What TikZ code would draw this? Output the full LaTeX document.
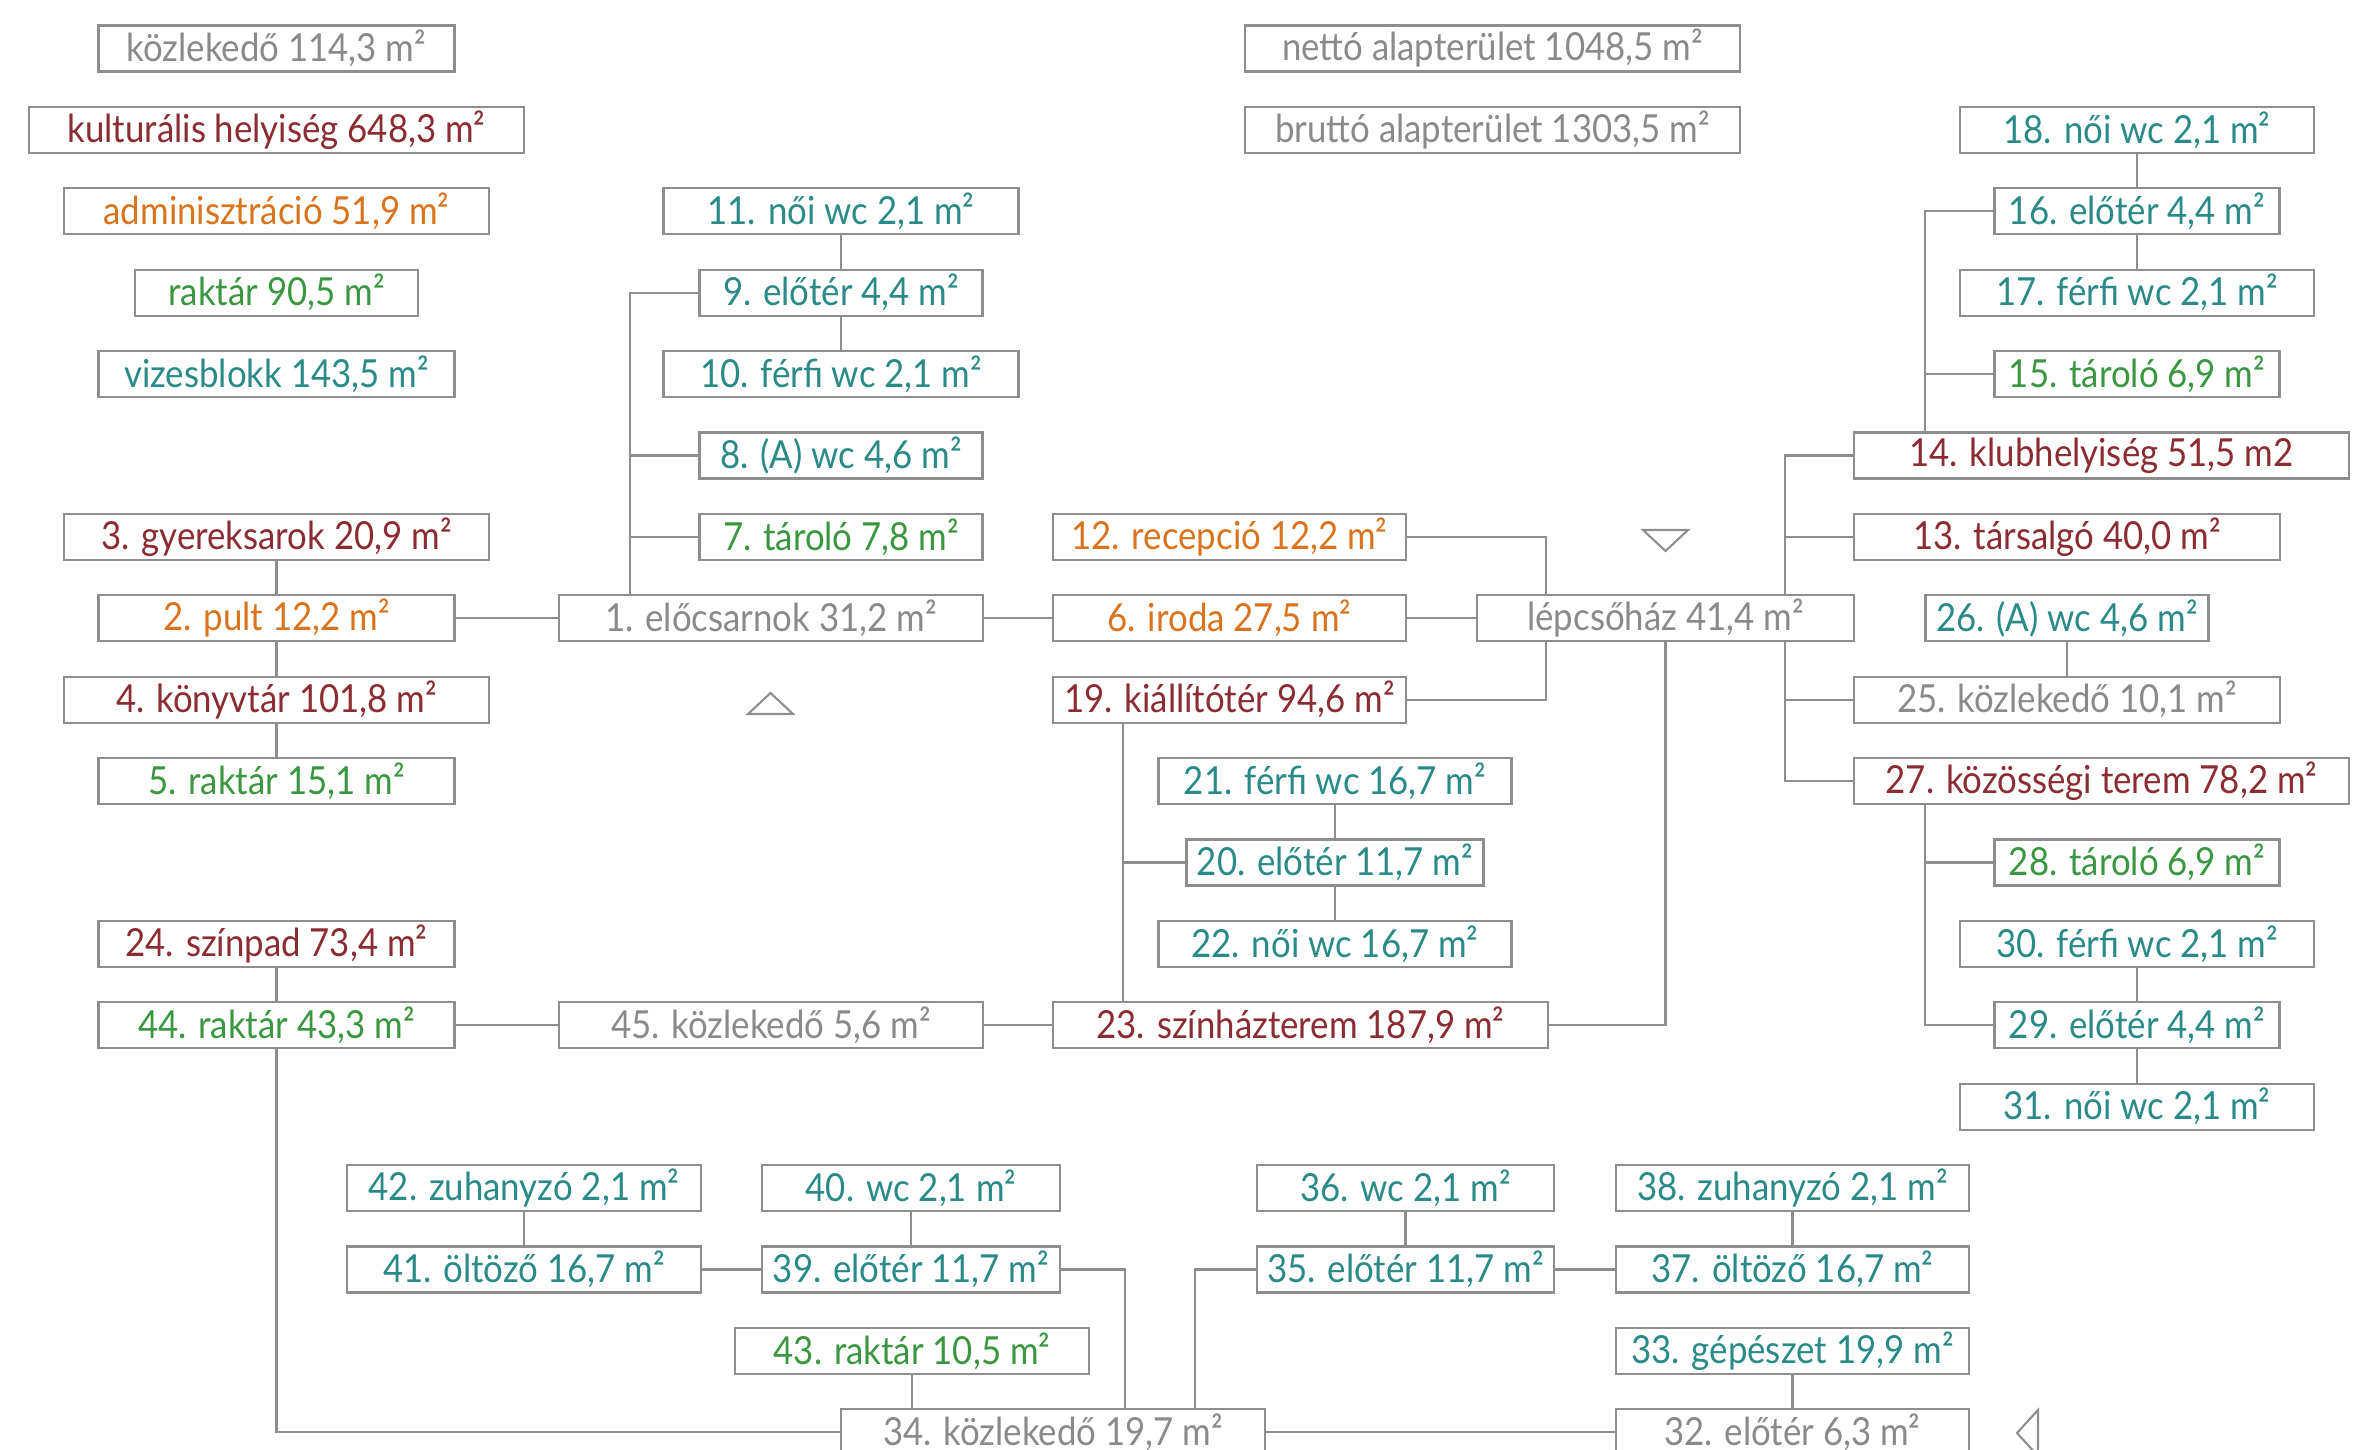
\documentclass[tikz,border=0pt]{standalone}
\usepackage{fontspec}
\setmainfont{Lato}[FakeStretch=0.9]
\definecolor{linegray}{HTML}{8E8E8E}
\definecolor{txtgray}{HTML}{8A8A8A}
\definecolor{roommaroon}{HTML}{8B2B33}
\definecolor{roomorange}{HTML}{D9741C}
\definecolor{roomgreen}{HTML}{3A9640}
\definecolor{roomteal}{HTML}{2A8A86}
\tikzset{
  room/.style={draw=linegray, line width=0.6pt, minimum height=0.46cm, inner sep=0pt, fill=white, font=\fontsize{11}{13}\selectfont},
  passage/.style={room, text=txtgray},
  culture/.style={room, text=roommaroon},
  admin/.style={room, text=roomorange},
  store/.style={room, text=roomgreen},
  wet/.style={room, text=roomteal},
  link/.style={draw=linegray, line width=0.6pt}
}
\begin{document}
\begin{tikzpicture}[x=1cm,y=1cm]
\useasboundingbox (0,0) rectangle (23.75,-14.50);

\node[passage, minimum width=3.56cm] (sumhall) at (2.765,-0.485) {közlekedő 114,3 m²};
\node[culture, minimum width=4.95cm] (sumcult) at (2.765,-1.299) {kulturális helyiség 648,3 m²};
\node[admin, minimum width=4.25cm] (sumadmin) at (2.765,-2.113) {adminisztráció 51,9 m²};
\node[store, minimum width=2.83cm] (sumstore) at (2.765,-2.927) {raktár 90,5 m²};
\node[wet, minimum width=3.56cm] (sumwet) at (2.765,-3.741) {vizesblokk 143,5 m²};
\node[passage, minimum width=4.95cm] (net) at (14.925,-0.485) {nettó alapterület 1048,5 m²};
\node[passage, minimum width=4.95cm] (gross) at (14.925,-1.299) {bruttó alapterület 1303,5 m²};

\node[wet, minimum width=3.55cm] (r11) at (8.41,-2.113) {11. női wc 2,1 m²};
\node[wet, minimum width=2.83cm] (r9) at (8.41,-2.927) {9. előtér 4,4 m²};
\node[wet, minimum width=3.55cm] (r10) at (8.41,-3.741) {10. férfi wc 2,1 m²};
\node[wet, minimum width=2.83cm] (r8) at (8.41,-4.555) {8. (A) wc 4,6 m²};
\node[store, minimum width=2.83cm] (r7) at (8.41,-5.369) {7. tároló 7,8 m²};

\node[wet, minimum width=3.54cm] (r18) at (21.37,-1.299) {18. női wc 2,1 m²};
\node[wet, minimum width=2.85cm] (r16) at (21.37,-2.113) {16. előtér 4,4 m²};
\node[wet, minimum width=3.54cm] (r17) at (21.37,-2.927) {17. férfi wc 2,1 m²};
\node[store, minimum width=2.85cm] (r15) at (21.37,-3.741) {15. tároló 6,9 m²};
\node[culture, minimum width=4.95cm] (r14) at (21.015,-4.555) {14. klubhelyiség 51,5 m2};
\node[culture, minimum width=4.26cm] (r13) at (20.67,-5.369) {13. társalgó 40,0 m²};
\node[wet, minimum width=2.83cm] (r26) at (20.67,-6.183) {26. (A) wc 4,6 m²};
\node[passage, minimum width=4.26cm] (r25) at (20.67,-6.997) {25. közlekedő 10,1 m²};
\node[culture, minimum width=4.95cm] (r27) at (21.015,-7.811) {27. közösségi terem 78,2 m²};
\node[store, minimum width=2.85cm] (r28) at (21.37,-8.625) {28. tároló 6,9 m²};
\node[wet, minimum width=3.54cm] (r30) at (21.37,-9.439) {30. férfi wc 2,1 m²};
\node[wet, minimum width=2.85cm] (r29) at (21.37,-10.253) {29. előtér 4,4 m²};
\node[wet, minimum width=3.54cm] (r31) at (21.37,-11.067) {31. női wc 2,1 m²};

\node[culture, minimum width=4.25cm] (r3) at (2.765,-5.369) {3. gyereksarok 20,9 m²};
\node[admin, minimum width=3.56cm] (r2) at (2.765,-6.183) {2. pult 12,2 m²};
\node[culture, minimum width=4.25cm] (r4) at (2.765,-6.997) {4. könyvtár 101,8 m²};
\node[store, minimum width=3.56cm] (r5) at (2.765,-7.811) {5. raktár 15,1 m²};
\node[passage, minimum width=4.24cm] (r1) at (7.71,-6.183) {1. előcsarnok 31,2 m²};
\node[admin, minimum width=3.53cm] (r12) at (12.295,-5.369) {12. recepció 12,2 m²};
\node[admin, minimum width=3.53cm] (r6) at (12.295,-6.183) {6. iroda 27,5 m²};
\node[culture, minimum width=3.53cm] (r19) at (12.295,-6.997) {19. kiállítótér 94,6 m²};
\node[passage, minimum width=3.77cm] (stair) at (16.655,-6.183) {lépcsőház 41,4 m²};

\node[wet, minimum width=3.53cm] (r21) at (13.35,-7.811) {21. férfi wc 16,7 m²};
\node[wet, minimum width=2.97cm] (r20) at (13.35,-8.625) {20. előtér 11,7 m²};
\node[wet, minimum width=3.53cm] (r22) at (13.35,-9.439) {22. női wc 16,7 m²};
\node[culture, minimum width=3.56cm] (r24) at (2.765,-9.439) {24. színpad 73,4 m²};
\node[store, minimum width=3.56cm] (r44) at (2.765,-10.253) {44. raktár 43,3 m²};
\node[passage, minimum width=4.24cm] (r45) at (7.71,-10.253) {45. közlekedő 5,6 m²};
\node[culture, minimum width=4.95cm] (r23) at (13.005,-10.253) {23. színházterem 187,9 m²};

\node[wet, minimum width=3.54cm] (r42) at (5.24,-11.881) {42. zuhanyzó 2,1 m²};
\node[wet, minimum width=2.98cm] (r40) at (9.11,-11.881) {40. wc 2,1 m²};
\node[wet, minimum width=2.97cm] (r36) at (14.055,-11.881) {36. wc 2,1 m²};
\node[wet, minimum width=3.53cm] (r38) at (17.925,-11.881) {38. zuhanyzó 2,1 m²};
\node[wet, minimum width=3.54cm] (r41) at (5.24,-12.695) {41. öltöző 16,7 m²};
\node[wet, minimum width=2.98cm] (r39) at (9.11,-12.695) {39. előtér 11,7 m²};
\node[wet, minimum width=2.97cm] (r35) at (14.055,-12.695) {35. előtér 11,7 m²};
\node[wet, minimum width=3.53cm] (r37) at (17.925,-12.695) {37. öltöző 16,7 m²};
\node[store, minimum width=3.54cm] (r43) at (9.12,-13.509) {43. raktár 10,5 m²};
\node[wet, minimum width=3.53cm] (r33) at (17.925,-13.509) {33. gépészet 19,9 m²};
\node[passage, minimum width=4.24cm] (r34) at (10.53,-14.323) {34. közlekedő 19,7 m²};
\node[passage, minimum width=3.53cm] (r32) at (17.925,-14.323) {32. előtér 6,3 m²};

\coordinate (lobbyline) at (6.30,0);
\coordinate (stairleft) at (15.46,0);
\coordinate (stairright) at (17.85,0);
\coordinate (clubline) at (19.25,0);
\coordinate (expoline) at (11.23,0);
\coordinate (westline) at (11.25,0);
\coordinate (eastline) at (11.95,0);

\draw[link] (r3) -- (r2);
\draw[link] (r2) -- (r4);
\draw[link] (r4) -- (r5);
\draw[link] (r2) -- (r1);
\draw[link] (r1) -- (r6);
\draw[link] (r6) -- (stair);
\draw[link] (r11) -- (r9);
\draw[link] (r9) -- (r10);
\draw[link] (r9.west) -| (lobbyline |- r1.north);
\draw[link] (r8.west) -- (lobbyline |- r8.west);
\draw[link] (r7.west) -- (lobbyline |- r7.west);
\draw[link] (r12.east) -| (stairleft |- stair.north);
\draw[link] (r19.east) -| (stairleft |- stair.south);
\draw[link] (stair.south) |- (r23.east);
\draw[link] (stairright |- stair.north) |- (r14.west);
\draw[link] (r13.west) -- (stairright |- r13.west);
\draw[link] (stairright |- stair.south) |- (r27.west);
\draw[link] (r25.west) -- (stairright |- r25.west);
\draw[link] (r26) -- (r25);
\draw[link] (clubline |- r14.north) |- (r16.west);
\draw[link] (r15.west) -- (clubline |- r15.west);
\draw[link] (r18) -- (r16);
\draw[link] (r16) -- (r17);
\draw[link] (clubline |- r27.south) |- (r29.west);
\draw[link] (r28.west) -- (clubline |- r28.west);
\draw[link] (r30) -- (r29);
\draw[link] (r29) -- (r31);
\draw[link] (expoline |- r19.south) -- (expoline |- r23.north);
\draw[link] (r20.west) -- (expoline |- r20.west);
\draw[link] (r21) -- (r20);
\draw[link] (r20) -- (r22);
\draw[link] (r24) -- (r44);
\draw[link] (r44) -- (r45);
\draw[link] (r45) -- (r23);
\draw[link] (r44.south) |- (r34.west);
\draw[link] (r42) -- (r41);
\draw[link] (r40) -- (r39);
\draw[link] (r41) -- (r39);
\draw[link] (r39.east) -| (westline |- r34.north);
\draw[link] (eastline |- r34.north) |- (r35.west);
\draw[link] (r36) -- (r35);
\draw[link] (r35) -- (r37);
\draw[link] (r38) -- (r37);
\draw[link] (r43) -- (r43 |- r34.north);
\draw[link] (r34) -- (r32);
\draw[link] (r33) -- (r32);

\draw[link] (7.48,-7.14) -- (7.93,-7.14) -- (7.705,-6.93) -- cycle;
\draw[link] (16.43,-5.30) -- (16.88,-5.30) -- (16.655,-5.51) -- cycle;
\draw[link] (20.38,-14.10) -- (20.17,-14.33) -- (20.38,-14.56) -- cycle;
\end{tikzpicture}
\end{document}
